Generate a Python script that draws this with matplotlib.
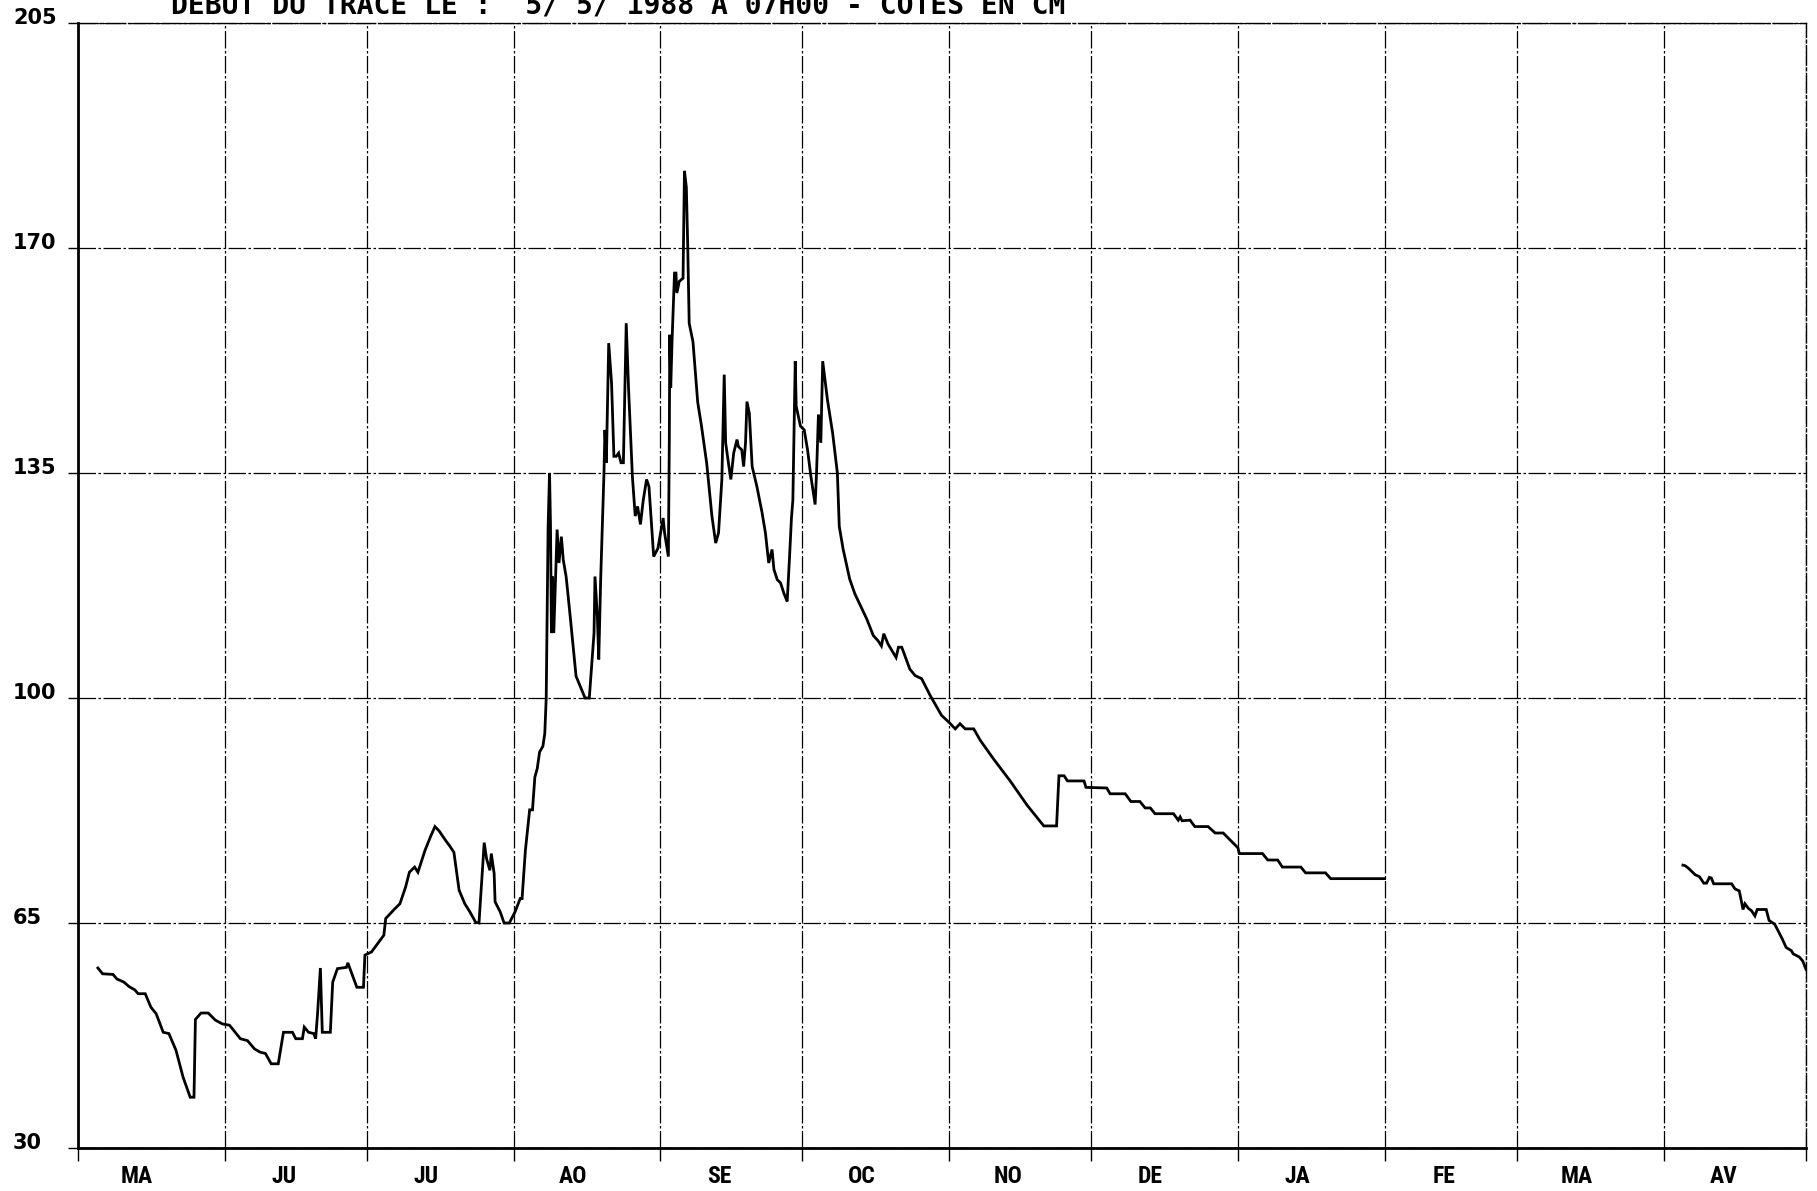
import matplotlib
matplotlib.use("Agg")
import matplotlib.pyplot as plt
from matplotlib import font_manager

# ---- data: days counted from 1 May 1988, water level in cm ----
month_starts = [0, 31, 61, 92, 123, 153, 184, 214, 245, 276, 304, 335, 365]
month_labels = ["MA", "JU", "JU", "AO", "SE", "OC", "NO", "DE", "JA", "FE", "MA", "AV"]
y_ticks = [30, 65, 100, 135, 170, 205]
title = "DEBUT DU TRACE LE :  5/ 5/ 1988 A 07H00 - COTES EN CM"

# segment 1: May 1988 -> end of January 1989
days_a = [4.2, 5.2, 7.4, 8.2, 9.7, 10.8, 12.0, 12.7, 14.2, 15.4, 16.5, 18.0, 19.2, 20.7,
          22.2, 23.7, 24.5, 24.8, 26.0, 27.5, 29.0, 30.5, 32.0, 33.2, 34.3, 35.8, 37.3,
          38.5, 39.6, 40.8, 42.3, 43.4, 45.3, 46.0, 47.4, 47.8, 48.7, 49.8, 50.2, 50.6,
          51.2, 51.6, 53.3, 53.8, 54.8, 56.7, 57.0, 58.9, 60.3, 60.6, 62.0, 63.5, 64.6,
          65.0, 66.9, 68.0, 69.2, 70.0, 71.1, 71.8, 73.3, 74.5, 75.4, 76.3, 77.5, 78.5,
          79.4, 80.5, 81.7, 82.8, 84.0, 84.7, 85.8, 86.3, 87.0, 87.3, 87.9, 88.1, 89.2,
          90.0, 91.1, 92.3, 93.4, 93.8, 94.5, 95.4, 96.0, 96.5, 97.0, 97.5, 98.2, 98.6,
          98.9, 99.3, 99.6, 99.8, 100.0, 100.2, 100.5, 100.9, 101.2, 101.6, 102.1, 102.5,
          103.1, 103.4, 104.1, 105.2, 106.2, 107.1, 108.0, 109.0, 109.2, 109.7, 110.0,
          110.4, 111.1, 111.3, 111.6, 112.1, 112.7, 113.2, 113.7, 114.2, 114.7, 115.2,
          115.8, 116.3, 117.1, 117.7, 118.2, 118.8, 119.4, 120.1, 120.6, 121.6, 122.5,
          123.6, 123.9, 124.7, 124.9, 125.0, 125.2, 125.5, 126.0, 126.3, 126.5, 127.0,
          127.8, 128.1, 128.5, 128.8, 129.1, 129.9, 130.9, 131.7, 132.8, 133.9, 134.7,
          135.3, 136.0, 136.5, 136.8, 137.4, 137.9, 138.5, 139.2, 139.5, 140.2, 140.6,
          141.0, 141.3, 141.8, 142.4, 143.4, 144.5, 145.2, 145.9, 146.6, 147.0, 147.7,
          148.4, 149.1, 149.8, 150.3, 150.7, 151.0, 151.5, 151.7, 152.6, 153.4, 154.1,
          154.8, 155.7, 156.0, 156.4, 156.9, 157.3, 158.3, 159.4, 160.4, 160.8, 161.6,
          163.0, 164.1, 166.6, 168.0, 169.0, 169.7, 170.2, 171.1, 172.8, 173.3, 174.0,
          175.7, 176.8, 178.2, 180.0, 182.4, 184.0, 185.3, 186.3, 187.4, 189.2, 190.6,
          193.4, 196.9, 200.5, 204.0, 206.7, 207.2, 208.3, 209.0, 212.5, 212.9, 217.3,
          218.0, 221.2, 222.4, 224.3, 225.4, 226.5, 227.5, 231.4, 232.4, 232.8, 233.2,
          234.9, 235.9, 238.7, 240.2, 241.9, 245.0, 245.3, 250.2, 251.3, 253.4, 254.4,
          258.3, 259.3, 263.5, 264.6, 276.0]
level_a = [58.0, 57.1, 57.0, 56.3, 55.8, 55.1, 54.6, 54.0, 54.0, 51.9, 50.9, 48.0, 47.8, 45.2,
           41.0, 37.9, 37.9, 50.0, 51.0, 51.0, 49.9, 49.3, 49.1, 48.0, 47.0, 46.7, 45.4,
           44.9, 44.7, 43.1, 43.1, 48.0, 48.0, 47.0, 47.0, 48.8, 48.0, 47.8, 47.0, 50.9,
           58.0, 48.0, 48.0, 55.8, 57.9, 58.1, 58.8, 55.0, 55.0, 60.0, 60.5, 62.0, 63.1,
           65.7, 67.2, 68.0, 70.6, 72.9, 73.7, 72.9, 76.3, 78.5, 80.0, 79.3, 78.0, 77.0,
           76.0, 70.1, 68.0, 66.7, 65.1, 65.0, 77.5, 75.0, 73.2, 75.8, 72.7, 68.3, 66.7,
           65.0, 65.0, 66.7, 68.8, 68.8, 76.3, 82.6, 82.6, 87.7, 89.0, 91.6, 92.5, 94.5,
           100.0, 126.7, 135.0, 127.0, 110.1, 118.9, 110.1, 119.4, 126.2, 121.0, 125.1, 121.5,
           118.9, 116.8, 111.7, 103.4, 101.6, 100.0, 100.0, 110.1, 118.9, 112.7, 106.0,
           118.4, 135.0, 141.7, 136.6, 155.2, 149.0, 137.6, 137.6, 138.1, 136.6, 136.6,
           158.3, 148.0, 134.5, 128.3, 129.8, 127.0, 130.8, 134.0, 132.9, 122.0, 123.3,
           128.0, 125.7, 122.0, 140.0, 156.5, 148.3, 156.0, 166.1, 166.1, 163.0, 164.8,
           165.3, 182.0, 179.4, 170.0, 158.3, 155.4, 146.0, 142.3, 136.5, 128.3, 124.1,
           125.7, 134.0, 150.3, 139.7, 136.5, 134.0, 138.1, 140.2, 139.1, 138.6, 136.0,
           139.7, 146.1, 144.3, 136.0, 132.9, 128.8, 125.7, 121.0, 123.1, 120.0, 118.4,
           117.9, 116.3, 115.0, 122.0, 128.0, 130.8, 152.4, 145.4, 142.3, 141.7, 138.6,
           134.5, 130.1, 135.0, 144.1, 139.7, 152.4, 146.4, 141.2, 135.0, 126.7, 123.2,
           118.5, 116.2, 112.3, 109.7, 108.9, 108.1, 110.0, 108.4, 106.3, 107.9, 107.9,
           104.5, 103.5, 103.0, 100.4, 97.3, 96.2, 95.2, 96.0, 95.2, 95.2, 93.4,
           90.5, 87.1, 83.3, 80.1, 80.1, 87.9, 87.9, 87.1, 87.1, 86.1, 86.0,
           85.1, 85.1, 83.9, 83.9, 82.9, 82.9, 82.0, 82.0, 81.0, 81.5, 80.9,
           81.0, 80.0, 80.0, 79.0, 79.0, 76.7, 75.8, 75.8, 74.8, 74.8, 73.7,
           73.7, 72.8, 72.8, 71.9, 71.9]

# segment 2: April 1989
days_b = [339.0, 339.5, 340.2, 340.9, 341.6, 342.5, 343.4, 344.0, 344.6, 345.0, 345.5,
          349.3, 350.0, 350.9, 351.4, 351.7, 352.1, 352.8, 353.5, 354.2, 354.7, 356.6,
          357.2, 358.4, 359.1, 360.0, 360.8, 361.9, 362.3, 363.6, 364.3, 365.0]
level_b = [74.0, 73.9, 73.5, 73.0, 72.5, 72.2, 71.2, 71.2, 72.1, 72.0, 71.1,
           71.1, 70.3, 70.0, 68.2, 67.1, 68.0, 67.3, 66.9, 66.1, 67.1, 67.1,
           65.4, 64.8, 63.8, 62.5, 61.2, 60.7, 60.2, 59.7, 59.1, 57.8]

# ---- fonts: prefer a condensed face for the month letters if one is installed ----
installed = {f.name for f in font_manager.fontManager.ttflist}
month_font = dict(family="DejaVu Sans", fontsize=13, fontweight="bold")
for cand in ["Liberation Sans Narrow", "Roboto Condensed", "Open Sans Condensed",
             "Noto Sans Condensed"]:
    if cand in installed:
        month_font = dict(family=cand, fontsize=17, fontweight="bold")
        break

# ---- figure ----
W, H = 1817, 1191
fig = plt.figure(figsize=(W / 100, H / 100), dpi=100)
left_px, right_px, top_px, bot_px = 78, 1806, 23, 1148
ax = fig.add_axes([left_px / W, 1 - bot_px / H, (right_px - left_px) / W, (bot_px - top_px) / H])

grid_style = (0, (14, 2, 2, 2))
ax.plot(days_a, level_a, color="black", lw=2.0, solid_joinstyle="miter")
ax.plot(days_b, level_b, color="black", lw=2.0, solid_joinstyle="miter")

ax.set_xlim(month_starts[0], month_starts[-1])
ax.set_ylim(y_ticks[0], y_ticks[-1])

# x: major ticks at month boundaries (grid), minor ticks carry the month labels
ax.set_xticks(month_starts)
ax.set_xticklabels([])
label_pos = [m + 12.5 for m in month_starts[:-1]]
ax.set_xticks(label_pos, minor=True)
ax.set_xticklabels(month_labels, minor=True, **month_font)
ax.tick_params(axis="x", which="major", direction="out", length=9, width=1.0)
ax.tick_params(axis="x", which="minor", length=0, pad=12)

# y: ticks drawn by the axis, labels left-aligned at the figure edge
ax.set_yticks(y_ticks)
ax.set_yticklabels([])
ax.tick_params(axis="y", direction="out", length=7, width=1.0)
ytrans = ax.get_yaxis_transform()
for v in y_ticks:
    ax.text(-0.0376, v + 0.8, str(v), transform=ytrans, ha="left", va="center",
            fontsize=15, fontweight="bold", family="DejaVu Sans", clip_on=False)

ax.grid(True, which="major", color="black", linestyle=grid_style, linewidth=0.9)

for side in ["left", "bottom"]:
    ax.spines[side].set_linewidth(2.0)
for side in ["top", "right"]:
    ax.spines[side].set_linewidth(1.0)
    ax.spines[side].set_linestyle(grid_style)

fig.text(171 / W, 1 - 14 / H, title, ha="left", va="baseline",
         family="DejaVu Sans Mono", fontsize=20.2, fontweight="bold")

fig.savefig("out.png", dpi=100, facecolor="white")
